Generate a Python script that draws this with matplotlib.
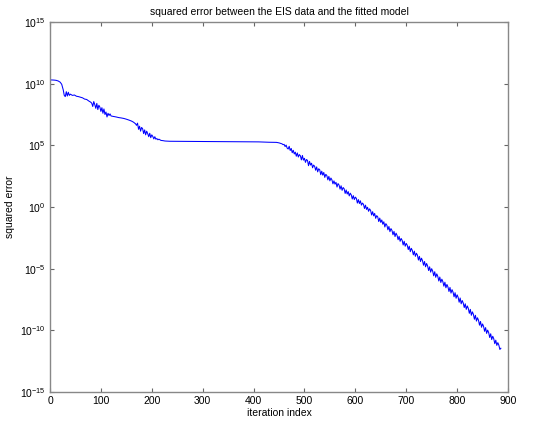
import numpy as np
import matplotlib
matplotlib.use("Agg")
import matplotlib.pyplot as plt
from matplotlib.ticker import FixedLocator, NullLocator

# ---- data (y stored as log10 of squared error) ----
iter_early = [0, 4, 8, 12, 16, 20, 23, 26, 28, 30, 32, 34, 36, 38, 40, 44, 48, 52, 56, 60,
              64, 68, 72, 76,
              80, 82, 84, 86, 88, 90, 92, 94, 96, 98, 100, 102, 104, 106, 108, 110, 112, 114,
              116, 118, 120, 124, 130, 135, 140, 145, 150, 155, 160, 164,
              168, 170, 172, 174, 176, 178, 180, 182, 184, 186, 188, 190, 192, 194, 196, 198,
              200, 202, 204, 206, 208, 210, 212, 214, 218, 222, 226, 235]
log_err_early = [10.30, 10.30, 10.29, 10.27, 10.22, 10.12, 9.95, 9.50, 9.05, 8.95, 9.35, 9.00,
                 9.30, 9.05, 9.15, 9.05, 9.08, 8.98, 8.95, 8.90, 8.85, 8.75, 8.72, 8.60,
                 8.50, 8.42, 8.15, 8.55, 8.30, 8.00, 8.40, 7.90, 8.25, 8.10, 7.75, 8.05, 7.60,
                 7.95, 7.50, 7.70, 7.30, 7.60, 7.42, 7.55, 7.38, 7.35, 7.30, 7.25, 7.22, 7.18,
                 7.12, 7.05, 6.97, 6.88,
                 6.75, 6.62, 6.80, 6.30, 6.55, 6.15, 6.45, 6.35, 5.95, 6.25, 5.85, 6.15, 5.95,
                 5.70, 5.98, 5.62, 5.85, 5.72, 5.52, 5.70, 5.50, 5.55, 5.45, 5.50, 5.40, 5.38,
                 5.35, 5.33]

iter_plateau = [260, 300, 340, 380, 410, 430, 445, 450]
log_err_plateau = [5.32, 5.31, 5.30, 5.29, 5.28, 5.25, 5.24, 5.20]

iter_descent = list(range(456, 887, 2))
log_err_descent = [
    5.12, 5.05, 5.08, 4.90, 5.02, 4.78, 4.70, 4.92, 4.58, 4.75,
    4.40, 4.60, 4.30, 4.45, 4.12, 4.38, 4.05, 4.25, 4.15, 3.82,
    4.18, 3.80, 3.95, 3.62, 3.85, 3.78, 3.35, 3.70, 3.40, 3.55,
    3.18, 3.40, 3.30, 2.98, 3.25, 2.85, 3.10, 3.02, 2.62, 2.90,
    2.58, 2.80, 2.40, 2.65, 2.55, 2.20, 2.48, 2.12, 2.35, 2.20,
    1.88, 2.12, 1.85, 2.00, 1.62, 1.90, 1.78, 1.45, 1.72, 1.35,
    1.58, 1.48, 1.10, 1.38, 1.05, 1.25, 0.90, 1.12, 0.98, 0.65,
    0.92, 0.60, 0.80, 0.70, 0.32, 0.60, 0.28, 0.50, 0.15, 0.32,
    0.22, -0.12, 0.15, -0.20, -0.02, -0.35, -0.15, -0.28, -0.65, -0.38,
    -0.72, -0.52, -0.92, -0.70, -0.80, -1.18, -0.90, -1.25, -1.05, -1.40,
    -1.20, -1.62, -1.35, -1.48, -1.85, -1.58, -2.00, -1.75, -1.90, -2.25,
    -1.98, -2.40, -2.12, -2.30, -2.65, -2.38, -2.78, -2.55, -2.70, -3.08,
    -2.78, -3.18, -2.95, -3.10, -3.45, -3.18, -3.62, -3.35, -3.52, -3.88,
    -3.58, -4.00, -3.75, -3.90, -4.30, -4.00, -4.42, -4.15, -4.35, -4.72,
    -4.42, -4.85, -4.58, -4.78, -5.15, -4.85, -5.28, -5.00, -5.20, -5.58,
    -5.25, -5.70, -5.42, -5.62, -6.00, -5.68, -6.12, -5.85, -6.05, -6.42,
    -6.10, -6.55, -6.28, -6.48, -6.85, -6.52, -6.98, -6.70, -6.90, -7.28,
    -6.95, -7.40, -7.12, -7.32, -7.72, -7.38, -7.85, -7.58, -7.78, -8.15,
    -7.85, -8.30, -8.02, -8.22, -8.62, -8.30, -8.78, -8.50, -8.70, -9.10,
    -8.78, -9.25, -8.98, -9.18, -9.58, -9.28, -9.75, -9.48, -9.68, -10.08,
    -9.78, -10.25, -9.98, -10.18, -10.58, -10.28, -10.75, -10.48, -10.68, -11.08,
    -10.80, -11.22, -11.00, -11.20, -11.55, -11.45]

x_ticks = [0, 100, 200, 300, 400, 500, 600, 700, 800, 900]
y_tick_exps = [-15, -10, -5, 0, 5, 10, 15]

title = "squared error between the EIS data and the fitted model"
x_label = "iteration index"
y_label = "squared error"

# ---- plot ----
plt.rcParams['font.family'] = ['Liberation Sans', 'DejaVu Sans']
plt.rcParams['mathtext.default'] = 'regular'

n = min(len(iter_descent), len(log_err_descent))
iters = np.array(iter_early + iter_plateau + iter_descent[:n], dtype=float)
errs = 10.0 ** np.array(log_err_early + log_err_plateau + log_err_descent[:n])

fig = plt.figure(figsize=(5.42, 4.22), dpi=100)
ax = fig.add_axes([50 / 542, 1 - 392 / 422, 458 / 542, 370 / 422])

ax.plot(iters, errs, color='#0000ff', lw=0.75)

ax.set_yscale('log')
ax.set_xlim(0, 900)
ax.set_ylim(1e-15, 1e15)
ax.xaxis.set_major_locator(FixedLocator(x_ticks))
ax.yaxis.set_major_locator(FixedLocator([10.0 ** e for e in y_tick_exps]))
ax.yaxis.set_minor_locator(NullLocator())
ax.set_yticklabels([r'$10^{%d}$' % e for e in y_tick_exps])

for s in ax.spines.values():
    s.set_color('#888888')
    s.set_linewidth(1.0)
ax.tick_params(direction='in', top=True, right=True, length=3, width=0.8,
               color='#666666', labelsize=7.5, pad=3)

ax.set_title(title, fontsize=7.5, pad=5)
ax.set_xlabel(x_label, fontsize=7.5, labelpad=1)
ax.set_ylabel(y_label, fontsize=7.5, labelpad=4)

fig.savefig('out.png', dpi=100, facecolor='white')
